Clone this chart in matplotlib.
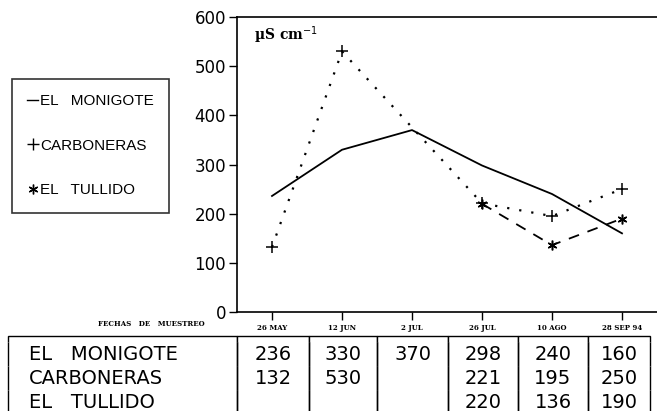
import numpy as np
import matplotlib
matplotlib.use("Agg")
import matplotlib.pyplot as plt
from matplotlib.lines import Line2D

# -------- data --------
fechas = ["26 MAY", "12 JUN", "2 JUL", "26 JUL", "10 AGO", "28 SEP 94"]
monigote = [236, 330, 370, 298, 240, 160]
carboneras = [132, 530, None, 221, 195, 250]
tullido = [None, None, None, 220, 136, 190]
sitios = ["EL   MONIGOTE", "CARBONERAS", "EL   TULLIDO"]
y_ticks = [0, 100, 200, 300, 400, 500, 600]


def valid(vals):
    idx = [i for i, v in enumerate(vals) if v is not None]
    return idx, [vals[i] for i in idx]


W, H = 657, 411
fig = plt.figure(figsize=(W / 100, H / 100), dpi=100)

# -------- main axes --------
ax = fig.add_axes([237 / W, 1 - 312 / H, 1 - 237 / W, (312 - 17) / H])

x_m, y_m = valid(monigote)
ax.plot(x_m, y_m, color="black", lw=1.3, ls="-")

x_c, y_c = valid(carboneras)
ax.plot(x_c, y_c, color="black", lw=1.6, ls=(0, (1, 4.5)),
        marker="+", ms=9, mew=1.1)

x_t, y_t = valid(tullido)
ax.plot(x_t, y_t, color="black", lw=1.3, ls=(0, (6, 5)),
        marker=(6, 2, 0), ms=7, mew=1.1)

ax.set_xlim(-0.5, 5.5)
ax.set_ylim(0, 600)
ax.set_yticks(y_ticks)
ax.set_yticklabels([str(v) for v in y_ticks], fontsize=12, family="DejaVu Sans")
ax.set_xticks(range(len(fechas)))
ax.set_xticklabels(fechas, fontsize=5, family="DejaVu Serif", fontweight="bold")
ax.tick_params(axis="both", direction="out", length=6, width=1, pad=2)
ax.tick_params(axis="x", pad=3)
ax.spines["right"].set_visible(False)
for s in ["left", "top", "bottom"]:
    ax.spines[s].set_linewidth(1.2)

ax.text(0.04, 0.975, "µS cm$^{-1}$", transform=ax.transAxes, fontsize=10,
        family="DejaVu Serif", fontweight="bold", va="top")

fig.text(205 / W, 1 - 324 / H, "FECHAS   DE   MUESTREO", fontsize=5,
         family="DejaVu Serif", fontweight="bold", ha="right", va="center")

# -------- legend --------
handles = [
    Line2D([], [], color="black", lw=1.0, ls="-"),
    Line2D([], [], color="black", ls="none", marker="+", ms=9, mew=1.0),
    Line2D([], [], color="black", ls="none", marker=(6, 2, 0), ms=7, mew=1.0),
]
leg = fig.legend(handles, sitios, loc="upper left",
                 bbox_to_anchor=(12 / W, 1 - 79 / H),
                 prop={"family": "Liberation Sans", "size": 11},
                 frameon=True, fancybox=False, edgecolor="black",
                 handlelength=0.7, handletextpad=0.15, labelspacing=2.0,
                 borderpad=1.0, borderaxespad=0)
leg.get_frame().set_linewidth(1.2)

# -------- data table --------
tax = fig.add_axes([8 / W, 0, (650 - 8) / W, (411 - 336) / H])
tax.axis("off")
col_w = np.array([229, 72, 68, 71, 70, 70, 62], dtype=float)
col_w = col_w / col_w.sum()
series = [monigote, carboneras, tullido]
cells = [[""] * (len(fechas) + 1)]  # thin spacer row under the top rule
for name, vals in zip(sitios, series):
    cells.append([name] + ["" if v is None else str(v) for v in vals])

tbl = tax.table(cellText=cells, colWidths=list(col_w), bbox=[0, -0.04, 1, 1.04],
                cellLoc="center")
tbl.auto_set_font_size(False)
for (r, c), cell in tbl.get_celld().items():
    cell.set_linewidth(1.0)
    cell.set_height(6 if r == 0 else 24)
    cell.visible_edges = "LRT" if r == 0 else "LR"
    cell.get_text().set_fontsize(14)
    cell.get_text().set_family("DejaVu Sans")
    if c == 0:
        cell.get_text().set_ha("left")
        cell._loc = "left"
        cell.PAD = 0.09

fig.savefig("out.png", dpi=100)
